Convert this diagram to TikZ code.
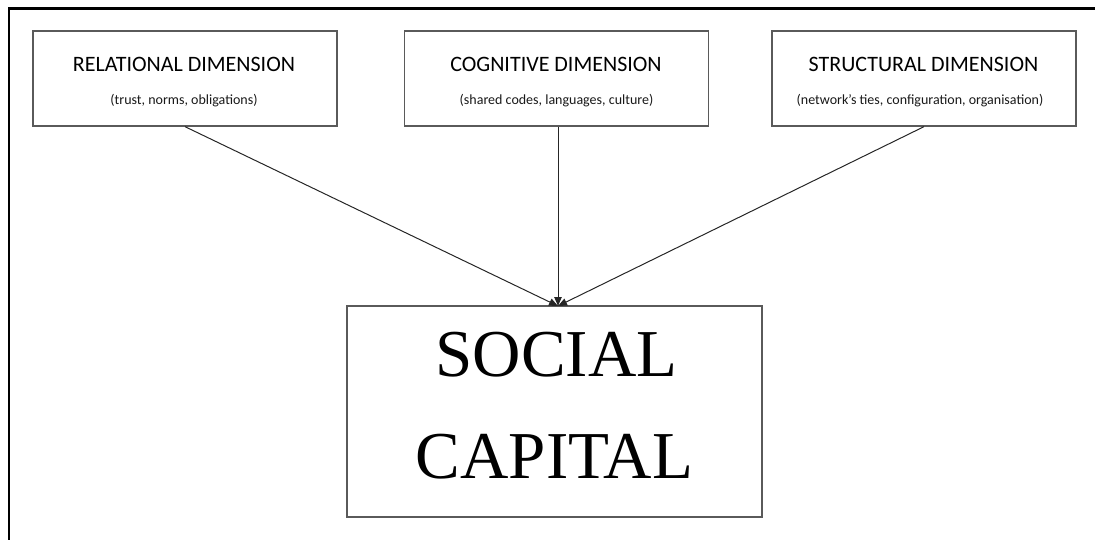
\documentclass[tikz,border=0pt]{standalone}
\usepackage{fontspec}
\setmainfont{Carlito}
\newfontfamily\capserif{Liberation Serif}
\usetikzlibrary{arrows.meta}

\definecolor{boxline}{HTML}{5A5A5A}
\definecolor{linkline}{HTML}{262626}

\tikzset{
  dimbox/.style={draw=boxline, line width=1.3pt, fill=white,
    minimum width=304pt, minimum height=95pt, inner sep=0pt},
  capbox/.style={draw=boxline, line width=1.3pt, fill=white,
    minimum width=415pt, minimum height=211pt, inner sep=0pt},
  dimtitle/.style={anchor=base, inner sep=0pt, font=\fontsize{22}{26}\selectfont, text=black},
  dimnote/.style={anchor=base, inner sep=0pt, font=\fontsize{14}{17}\selectfont, text=black!90},
  captext/.style={anchor=base, inner sep=0pt, font=\capserif\fontsize{67}{80}\selectfont},
  link/.style={draw=linkline, line width=1pt,
    -{Triangle[length=9pt,width=7.5pt]}}
}

\begin{document}
\begin{tikzpicture}[x=1pt,y=-1pt]
\useasboundingbox (0,0) rectangle (1095,539);

% outer frame (top and left edges)
\draw[line width=2.6pt, line cap=rect] (9,539) -- (9,8.5) -- (1095,8.5);

% the three dimensions
\node[dimbox] (rel) at (185,78.5) {};
\node[dimbox] (cog) at (556.5,78.5) {};
\node[dimbox] (str) at (924,78.5) {};

\node[dimtitle] (relT) at (184,71) {RELATIONAL DIMENSION};
\node[dimnote]  (relS) at (184,104) {(trust, norms, obligations)};
\node[dimtitle] (cogT) at (556,71) {COGNITIVE DIMENSION};
\node[dimnote]  (cogS) at (556.5,104) {(shared codes, languages, culture)};
\node[dimtitle] (strT) at (923.5,71) {STRUCTURAL DIMENSION};
\node[dimnote]  (strS) at (920,104) {(network’s ties, configuration, organisation)};

% social capital
\node[capbox] (sc) at (554.5,411.5) {};
\node[captext] (scA) at (556.5,376) {SOCIAL};
\node[captext] (scB) at (554.5,478) {CAPITAL};

% connectors
\coordinate (hub) at (558,306);
\draw[link] (rel.south) -- (hub);
\draw[link] (cog.south -| hub) -- (hub);
\draw[link] (str.south) -- (hub);
\end{tikzpicture}
\end{document}
